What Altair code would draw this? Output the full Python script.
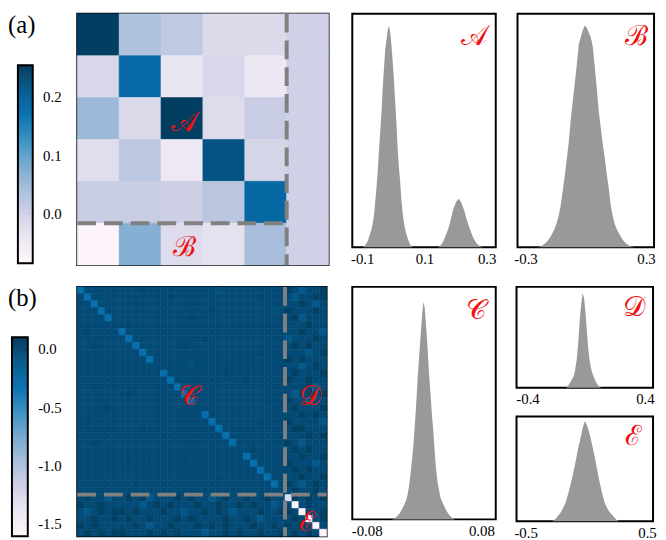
import altair as alt
import numpy as np
import pandas as pd

SERIF = "Liberation Serif"
RED = "#ee1111"
GRAY = "#999999"
PUBU = ["#fff7fb", "#ece7f2", "#d0d1e6", "#a6bddb", "#74a9cf", "#3690c0", "#0570b0", "#045a8d", "#023858"]

# ---------------- panel (a) matrix ----------------
HEAT_A = [
    [0.247, 0.034, 0.017, -0.017, -0.017, 0.0],
    [-0.013, 0.180, -0.040, -0.012, -0.043, 0.0],
    [0.050, -0.015, 0.247, -0.022, 0.008, 0.0],
    [-0.025, 0.020, -0.045, 0.220, -0.008, 0.0],
    [0.008, 0.008, 0.003, 0.022, 0.185, 0.0],
    [-0.078, 0.070, -0.020, -0.032, 0.040, 0.0],
]
A_DOMAIN = [-0.085, 0.254]
A_TICKS = [0.0, 0.1, 0.2]

# ---------------- panel (b) matrix (36 x 36, coded levels) ----------------
B_LEVELS = {".": -0.02, "d": 0.005, "l": -0.05, "D": 0.05, "L": -0.10,
            "c": -0.31, "e": -1.58, "f": -1.30}
HEAT_B_ROWS = [
    "c..... ...d.. ...... ..l... ...... D.L..D",
    ".c.... ...... .d.... ...... ..d... .L..DD",
    "..c... ..d... ...... ...... ...... ..D.L.",
    "...c.. ...... ...... .d.... ....l. D...D.",
    "....c. ...... ....d. ...... ...... .DL...",
    "...... .d.... ...... ...... ...d.. ...D..",
    ".d.... c..... ...... ...... ...... ..D..L",
    "...... .c.... ...... d..... ...... L...D.",
    "..d... ..c... ...d.. ...... ...... .D.D..",
    "...... ...c.. ...... ...... ..d... ...L.D",
    "...... ....c. ...... ...... ...... D.D...",
    ".d.... ...... ....l. ...... ...... ..L.D.",
    "...... ...... c..... ...d.. ...... .D...D",
    "...... ...... .c.... ...... d..... D..D..",
    "..d... ...... ..c... ...... ...... ...DL.",
    "...... .d.... ...c.. ...... ...... .L.D.D",
    "...... ...... ....c. ...... ...d.. D..L..",
    "....d. ...... ...... ...... ...... .D...D",
    "...... ...... ...... c..... ...... ..D.D.",
    ".d.... ...... ...... .c.... ..d... D....L",
    "...... ...d.. ...... ..c... ...... .DD...",
    "...... ...... d..... ...c.. ...... ...D.D",
    "..d... ...... ...... ....c. ...... D.L...",
    "...... ...... ...... ...... .d.... .D.D..",
    "...... .d.... ...... ...... c..... ..D..D",
    "...... ...... ...d.. ...... .c.... D...L.",
    ".d.... ...... ...... ...... ..c... .D.D..",
    "...... ...... ...... ..d... ...c.. ..D..D",
    "...... ..d... ...... ...... ....c. D.L.D.",
    "...... ...... ...... ...... ...... .D..D.",
    ".D..L. .D.DL. ..D.D. .L.D.. D..D.. fD.D.D",
    "D..D.. ...L.D .D...D ..D..D .D..L. .e.D..",
    ".L.D.D D.D... D..L.. D.D.L. ..D..D D.e..D",
    "..D..D .D..D. ..D.D. ...D.. D.L... .D.e.D",
    "D.D... ..D.L. .D...D .D.D.. .D..D. D.D.e.",
    ".D.D.D D...D. D.D... L..D.D ..D..D .D.D.e",
]
B_DOMAIN = [-1.61, 0.10]
B_TICKS = [0.0, -0.5, -1.0, -1.5]

# ---------------- histograms (first bin centre, bin width, heights as fraction of panel height) ----------------
HA1_START, HA1_STEP = -0.098, 0.004
HA1 = [0, 0.003, 0.010, 0.018, 0.028, 0.045, 0.062, 0.078, 0.105, 0.14, 0.20, 0.26, 0.33, 0.42,
       0.50, 0.58, 0.69, 0.77, 0.85, 0.89, 0.93, 0.95, 0.92, 0.865, 0.79, 0.715, 0.62, 0.53, 0.42,
       0.34, 0.28, 0.20, 0.145, 0.105, 0.077, 0.056, 0.038, 0.024, 0.012, 0.004, 0]
HA2_START, HA2_STEP = 0.142, 0.004
HA2 = [0, 0.002, 0.007, 0.012, 0.019, 0.030, 0.043, 0.057, 0.071, 0.086, 0.106, 0.128, 0.150,
       0.168, 0.182, 0.195, 0.204, 0.207, 0.202, 0.192, 0.178, 0.163, 0.148, 0.126, 0.108, 0.092,
       0.078, 0.063, 0.050, 0.038, 0.028, 0.020, 0.014, 0.009, 0.005, 0.003, 0.001, 0]
HB_START, HB_STEP = -0.245, 0.01
HB = [0, 0.001, 0.004, 0.009, 0.015, 0.023, 0.033, 0.046, 0.062, 0.080, 0.104, 0.135, 0.180, 0.240,
      0.305, 0.375, 0.448, 0.545, 0.625, 0.70, 0.78, 0.87, 0.90, 0.93, 0.95, 0.94, 0.92, 0.90, 0.86,
      0.77, 0.68, 0.58, 0.51, 0.44, 0.38, 0.31, 0.25, 0.175, 0.13, 0.098, 0.076, 0.060, 0.045, 0.031,
      0.021, 0.014, 0.008, 0.004, 0.001, 0]
HC_START, HC_STEP = -0.045, 0.002
HC = [0, 0.002, 0.005, 0.009, 0.014, 0.022, 0.031, 0.042, 0.054, 0.067, 0.082, 0.105, 0.14, 0.19,
      0.25, 0.31, 0.40, 0.49, 0.60, 0.69, 0.78, 0.865, 0.935, 0.91, 0.825, 0.735, 0.625, 0.545, 0.45,
      0.38, 0.285, 0.21, 0.156, 0.125, 0.093, 0.078, 0.064, 0.051, 0.039, 0.028, 0.020, 0.013, 0.007,
      0.003, 0]
HD_START, HD_STEP = -0.145, 0.01
HD = [0, 0.004, 0.018, 0.040, 0.062, 0.090, 0.12, 0.185, 0.28, 0.44, 0.66, 0.82, 0.94, 0.89, 0.74,
      0.55, 0.365, 0.25, 0.18, 0.13, 0.095, 0.06, 0.034, 0.016, 0.005, 0]
HE_START, HE_STEP = -0.29, 0.02
HE = [0, 0.008, 0.028, 0.055, 0.088, 0.13, 0.18, 0.26, 0.35, 0.45, 0.56, 0.68, 0.78, 0.89, 0.96,
      0.90, 0.82, 0.72, 0.61, 0.49, 0.37, 0.27, 0.18, 0.13, 0.092, 0.065, 0.038, 0.012, 0]

NEG_LABEL = "datum.value < 0 ? '-' + format(-datum.value, '{f}') : format(datum.value, '{f}')"


def pubu_scale(domain):
    return alt.Scale(domain=list(np.linspace(domain[0], domain[1], len(PUBU))), range=PUBU,
                     interpolate="rgb")


def colorbar(domain, ticks, label, bar_x0, width, height, gap_top, gap_bottom):
    # the bar occupies the lower part of a view as tall as the heatmap
    bar_px = height - gap_top - gap_bottom
    per_px = (domain[1] - domain[0]) / bar_px
    full = [domain[0] - gap_bottom * per_px, domain[1] + gap_top * per_px]
    vals = np.linspace(domain[0], domain[1], 241)
    df = pd.DataFrame({"v": vals[:-1], "v2": vals[1:]})
    sc = pubu_scale(domain)
    ys = alt.Scale(domain=full, nice=False, zero=False)
    grad = alt.Chart(df).mark_rect(strokeWidth=0.6).encode(
        x=alt.value(bar_x0),
        x2=alt.value("width"),
        y=alt.Y("v:Q", scale=ys,
                axis=alt.Axis(orient="right", values=ticks, offset=-5, tickSize=5, tickWidth=1.5,
                              tickColor="black", domain=False, grid=False, labelPadding=10,
                              labelFont=SERIF, labelFontSize=15, labelColor="black",
                              labelExpr=NEG_LABEL.format(f=".1f"), title=None)),
        y2="v2:Q",
        color=alt.Color("v:Q", scale=sc, legend=None),
        stroke=alt.Stroke("v:Q", scale=sc, legend=None),
    )
    frame = alt.Chart(pd.DataFrame({"lo": [domain[0]], "hi": [domain[1]]})).mark_rect(
        fillOpacity=0, stroke="black", strokeWidth=2).encode(
        x=alt.value(bar_x0), x2=alt.value("width"), y=alt.Y("lo:Q", scale=ys), y2="hi:Q")
    txt = alt.Chart(pd.DataFrame({"t": [label]})).mark_text(
        font=SERIF, fontSize=25, color="black", align="left", baseline="middle", dx=-4).encode(
        x=alt.value(0), y=alt.value(11), text="t:N")
    return alt.layer(grad, frame, txt).properties(
        width=width, height=height, view=alt.ViewBackground(strokeOpacity=0))


def heatmap(cells, n, domain, size, lines, labels):
    df = pd.DataFrame(cells, columns=["r", "c", "v"])
    df["r2"] = df["r"] + 1
    df["c2"] = df["c"] + 1
    sc = pubu_scale(domain)
    xs = alt.Scale(domain=[0, n], nice=False, zero=False)
    ys = alt.Scale(domain=[0, n], nice=False, zero=False, reverse=True)
    rects = alt.Chart(df).mark_rect(strokeWidth=0.6).encode(
        x=alt.X("c:Q", scale=xs, axis=None),
        x2="c2:Q",
        y=alt.Y("r:Q", scale=ys, axis=None),
        y2="r2:Q",
        color=alt.Color("v:Q", scale=sc, legend=None),
        stroke=alt.Stroke("v:Q", scale=sc, legend=None),
    )
    ldf = pd.DataFrame(lines, columns=["x", "x2", "y", "y2"])
    rules = alt.Chart(ldf).mark_rule(color="#808080", strokeWidth=4, strokeDash=[19, 8]).encode(
        x="x:Q", x2="x2:Q", y="y:Q", y2="y2:Q")
    tdf = pd.DataFrame(labels, columns=["x", "y", "t"])
    text = alt.Chart(tdf).mark_text(color=RED, fontSize=28, font="DejaVu Serif",
                                    align="center", baseline="middle").encode(
        x="x:Q", y="y:Q", text="t:N")
    return alt.layer(rects, rules, text).properties(width=size, height=size)


def hist(segments, domain, ticks, fmt, width, height, label, lx, ly):
    rows = []
    for k, (start, step, hs) in enumerate(segments):
        for i, h in enumerate(hs):
            rows.append({"x": start + i * step, "h": h, "seg": k})
    df = pd.DataFrame(rows)
    area = alt.Chart(df).mark_area(interpolate="linear", color=GRAY).encode(
        x=alt.X("x:Q", scale=alt.Scale(domain=domain, nice=False, zero=False),
                axis=alt.Axis(values=ticks, ticks=False, domain=False, grid=False, labelFlush=False,
                              labelFont=SERIF, labelFontSize=15, labelColor="black", labelPadding=4,
                              labelExpr=NEG_LABEL.format(f=fmt), title=None)),
        y=alt.Y("h:Q", scale=alt.Scale(domain=[0, 1], nice=False), axis=None),
        detail="seg:N",
    )
    tdf = pd.DataFrame({"x": [lx], "y": [ly], "t": [label]})
    text = alt.Chart(tdf).mark_text(color=RED, fontSize=28, font="DejaVu Serif",
                                    align="center", baseline="middle").encode(
        x="x:Q", y="y:Q", text="t:N")
    return alt.layer(area, text).properties(width=width, height=height)


def indep(ch):
    return ch.resolve_scale(color="independent", stroke="independent")


cells_a = [(r, c, HEAT_A[r][c]) for r in range(6) for c in range(6)]
cells_b = []
for r, row in enumerate(HEAT_B_ROWS):
    for c, ch in enumerate(row.replace(" ", "")):
        cells_b.append((r, c, B_LEVELS[ch]))

heat_a = heatmap(cells_a, 6, A_DOMAIN, 254,
                 [(5, 5, 0, 6), (0, 5, 5, 5)],
                 [(2.55, 2.6, "𝒜"), (2.55, 5.6, "ℬ")])
heat_b = heatmap(cells_b, 36, B_DOMAIN, 252,
                 [(30, 30, 0, 36), (0, 36, 30, 30)],
                 [(16.1, 15.9, "𝒞"), (33.6, 15.9, "𝒟"), (33.3, 34.1, "ℰ")])

cbar_a = colorbar(A_DOMAIN, A_TICKS, "(a)", 6, 21, 254, 52, 2)
cbar_b = colorbar(B_DOMAIN, B_TICKS, "(b)", 0, 16, 252, 51, 0)

W_RIGHT = 138
hist_a = hist([(HA1_START, HA1_STEP, HA1), (HA2_START, HA2_STEP, HA2)], [-0.132, 0.329],
              [-0.1, 0.1, 0.3], ".1f", 145, 236, "𝒜", 0.259, 0.90)
hist_b = hist([(HB_START, HB_STEP, HB)], [-0.34, 0.34], [-0.3, 0.3], ".1f", W_RIGHT, 236, "ℬ", 0.255, 0.90)
hist_c = hist([(HC_START, HC_STEP, HC)], [-0.1, 0.1], [-0.08, 0.08], ".2f", 145, 235, "𝒞", 0.0724, 0.894)
hist_d = hist([(HD_START, HD_STEP, HD)], [-0.475, 0.455], [-0.4, 0.4], ".1f", W_RIGHT, 102, "𝒟", 0.325, 0.79)
hist_e = hist([(HE_START, HE_STEP, HE)], [-0.575, 0.55], [-0.5, 0.5], ".1f", W_RIGHT, 106, "ℰ", 0.39, 0.80)

row_a = indep(alt.hconcat(
    indep(alt.hconcat(cbar_a, heat_a, spacing=13)),
    indep(alt.hconcat(hist_a, hist_b, spacing=15)),
    spacing=19))
row_b = indep(alt.hconcat(
    indep(alt.hconcat(cbar_b, heat_b, spacing=13)),
    indep(alt.hconcat(hist_c, indep(alt.vconcat(hist_d, hist_e, spacing=8)), spacing=16)),
    spacing=20))

chart = indep(alt.vconcat(row_a, row_b, spacing=16)).properties(padding=0).configure_view(
    stroke="black", strokeWidth=2)

chart.save("out.html", embed_options={"renderer": "svg", "actions": False})
